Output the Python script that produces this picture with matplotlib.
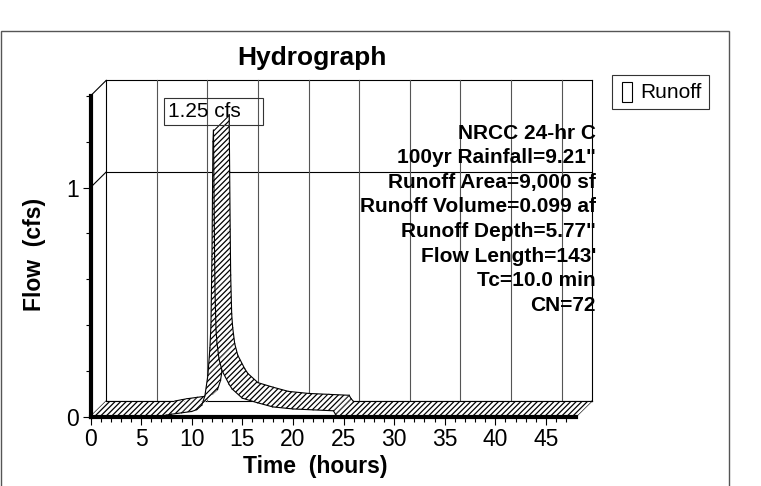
import matplotlib
matplotlib.use("Agg")
import matplotlib.pyplot as plt
from matplotlib.patches import Polygon, Rectangle
from matplotlib.lines import Line2D

plt.rcParams['font.family'] = ['Liberation Sans', 'DejaVu Sans']
plt.rcParams['hatch.linewidth'] = 0.9

# runoff hydrograph (hours, cfs)
hours = [0.0, 6.8, 7.5, 8.0, 9.0, 10.0, 10.5, 11.0, 11.3, 11.6, 11.8, 11.9,
         12.0, 12.05, 12.1, 12.15, 12.2, 12.25, 12.3, 12.4, 12.5, 12.7,
         13.0, 13.7, 14.0, 15.0, 16.5, 18.0, 20.0, 22.0, 24.0, 24.2, 24.4, 48.0]
runoff_cfs = [0, 0, 0.006, 0.01, 0.016, 0.022, 0.03, 0.05, 0.09, 0.18, 0.30, 0.40,
              0.70, 0.95, 1.20, 1.25, 1.00, 0.75, 0.55, 0.38, 0.32, 0.25,
              0.20, 0.14, 0.12, 0.08, 0.06, 0.042, 0.033, 0.029, 0.025, 0.01, 0.0, 0.0]

x_major = [0, 5, 10, 15, 20, 25, 30, 35, 40, 45]
y_major = [0, 1]
x_max = 48
y_max = 1.4

info_lines = ['NRCC 24-hr C', '100yr Rainfall=9.21"', 'Runoff Area=9,000 sf',
              'Runoff Volume=0.099 af', 'Runoff Depth=5.77"', "Flow Length=143'",
              'Tc=10.0 min', 'CN=72']

W, H = 761, 486
def fx(x):
    return x / W
def fy(y):
    return 1 - y / H

fig = plt.figure(figsize=(W / 100, H / 100), dpi=100)

# 3D depth offset in data units
DX = 1.55
DY = 0.0677

ax = fig.add_axes([fx(90.5), fy(416.5), (592 - 90.5) / W, (416.5 - 80.4) / H])
ax.set_xlim(0, x_max + DX)
ax.set_ylim(0, y_max + DY)
ax.patch.set_visible(False)

for s in ['top', 'right']:
    ax.spines[s].set_visible(False)
ax.spines['left'].set_bounds(0, y_max)
ax.spines['bottom'].set_bounds(0, x_max)
ax.spines['left'].set_linewidth(3)
ax.spines['bottom'].set_linewidth(3)

ax.set_xticks(x_major)
ax.set_xticks(range(0, x_max), minor=True)
ax.set_yticks(y_major)
ax.set_yticks([0.2 * i for i in range(8)], minor=True)
ax.tick_params(which='major', length=5.5, width=0.8, labelsize=16.5, pad=3)
ax.tick_params(which='minor', length=3.5, width=0.8)

# back wall
wall_kw = dict(color='black', lw=0.8, clip_on=False, zorder=1)
ax.plot([DX, DX], [DY, y_max + DY], **wall_kw)
ax.plot([x_max + DX, x_max + DX], [DY, y_max + DY], **wall_kw)
ax.plot([DX, x_max + DX], [y_max + DY, y_max + DY], **wall_kw)
ax.plot([DX, x_max + DX], [DY, DY], **wall_kw)
ax.plot([DX, x_max + DX], [1 + DY, 1 + DY], **wall_kw)
for xv in x_major[1:]:
    ax.plot([xv + DX, xv + DX], [DY, y_max + DY], color='#555555', lw=0.8,
            clip_on=False, zorder=1)
for yv in [0, 1, y_max]:
    ax.plot([0, DX], [yv, yv + DY], **wall_kw)
ax.plot([x_max, x_max + DX], [0, DY], **wall_kw)

# hatched ribbon, segment by segment
for i in range(len(hours) - 1):
    t0, t1 = hours[i], hours[i + 1]
    q0, q1 = runoff_cfs[i], runoff_cfs[i + 1]
    z = 1.5 + i * 0.01
    poly = Polygon([(t0, q0), (t1, q1), (t1 + DX, q1 + DY), (t0 + DX, q0 + DY)],
                   closed=True, facecolor='white', edgecolor='black',
                   hatch='//////', lw=0, zorder=z, clip_on=False)
    ax.add_patch(poly)
    ax.add_line(Line2D([t0, t1], [q0, q1], color='black', lw=0.8, zorder=z + 0.005,
                       clip_on=False))
    ax.add_line(Line2D([t0 + DX, t1 + DX], [q0 + DY, q1 + DY], color='black', lw=0.8,
                       zorder=z + 0.005, clip_on=False))

# peak label
ip = runoff_cfs.index(max(runoff_cfs))
ax.annotate('%.2f cfs   ' % runoff_cfs[ip], xy=(hours[ip], runoff_cfs[ip]),
            xytext=(0, 9), textcoords='offset pixels', ha='center', va='bottom',
            fontsize=15, zorder=5,
            bbox=dict(boxstyle='square,pad=0.2', fc='none', ec='#333333', lw=0.8))

# texts
fig.text(fx(312), fy(58), 'Hydrograph', ha='center', va='center',
         fontsize=19, fontweight='bold')
fig.text(fx(315), fy(466.7), 'Time  (hours)', ha='center', va='center',
         fontsize=16.5, fontweight='bold')
fig.text(fx(35), fy(254), 'Flow  (cfs)', ha='center', va='center', rotation=90,
         fontsize=16.5, fontweight='bold')
for k, line in enumerate(info_lines):
    fig.text(fx(596), fy(133 + 24.6 * k), line, ha='right', va='center',
             fontsize=15, fontweight='bold', zorder=6)

# legend
fig.add_artist(Rectangle((fx(611.7), fy(109.3)), (708.7 - 611.7) / W, (109.3 - 75) / H,
                         transform=fig.transFigure, fill=False, ec='#333333', lw=0.8))
fig.add_artist(Rectangle((fx(621.7), fy(102.3)), (632.3 - 621.7) / W, (102.3 - 81.7) / H,
                         transform=fig.transFigure, fill=False, ec='black', lw=0.8))
fig.text(fx(640), fy(92), 'Runoff', ha='left', va='center', fontsize=15)

# outer frame
fig.add_artist(Rectangle((fx(1), -0.01), 728 / W, (486 - 31) / H + 0.01,
                         transform=fig.transFigure, fill=False, ec='#555555', lw=1))

fig.savefig('out.png', dpi=100)
